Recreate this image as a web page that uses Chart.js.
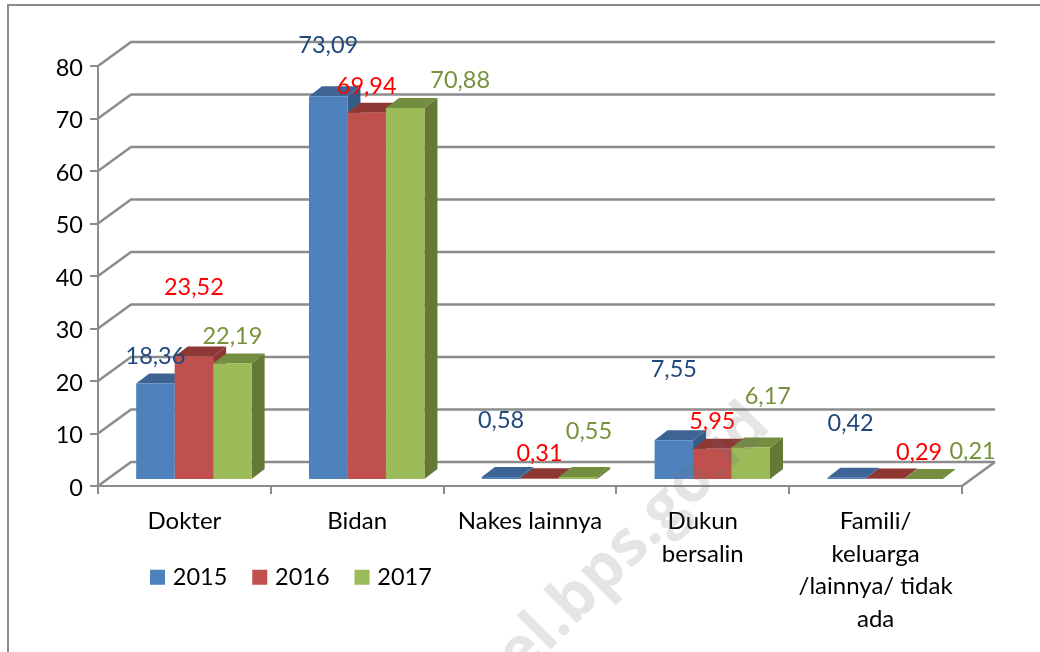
<!DOCTYPE html>
<html>
<head>
<meta charset="utf-8">
<title>Penolong persalinan</title>
<script src="https://cdn.jsdelivr.net/npm/chart.js@4"></script>
<style>
  html, body { margin: 0; padding: 0; background: #fff; }
  canvas { display: block; }
</style>
</head>
<body>
<canvas id="myChart" width="1040" height="652"></canvas>
<script>
"use strict";

const categories = ["Dokter", "Bidan", "Nakes lainnya", ["Dukun", "bersalin"], ["Famili/", "keluarga", "/lainnya/ tidak", "ada"]];
const years = ["2015", "2016", "2017"];
const values2015 = [18.36, 73.09, 0.58, 7.55, 0.42];
const values2016 = [23.52, 69.94, 0.31, 5.95, 0.29];
const values2017 = [22.19, 70.88, 0.55, 6.17, 0.21];

const frontColors = ["#4F81BD", "#C0504D", "#9BBB59"];
const topColors = ["#3E6495", "#8E3836", "#748E40"];
const sideColors = ["#355C88", "#8E3836", "#657835"];
const labelColors = ["#1F497D", "#FF0000", "#76923C"];

/* Etiketternas förskjutning från stapelns topp, [dx, dy], en rad per serie */
const labelOffsets = [
  [[0, -27], [0, -51], [0, -57], [0, -71], [4, -54]],
  [[0, -69], [0, -26], [0, -25], [0, -27], [34, -26]],
  [[0, -27], [55, -27], [11, -46], [17, -51], [49, -27]]
];

const FONT = "Lato";
const depthX = 33, depthY = 24;      // väggarnas djup
const barShiftX = 9.5, barShiftY = 6; // staplarna står mitt på golvet
const barDepthX = 13, barDepthY = 10;
const gridColor = "#8C8C8C";

function face(ctx, color, points) {
  ctx.fillStyle = color;
  ctx.beginPath();
  points.forEach((p, i) => i ? ctx.lineTo(p[0], p[1]) : ctx.moveTo(p[0], p[1]));
  ctx.closePath();
  ctx.fill();
}

/* Ram och väggar */
const wallsPlugin = {
  id: "walls",
  beforeDraw(chart) {
    const ctx = chart.ctx, y = chart.scales.y, a = chart.chartArea;
    ctx.save();
    ctx.strokeStyle = "#8C8C8C";
    ctx.lineWidth = 2;
    ctx.strokeRect(8, 5, 1100, 700);

    ctx.strokeStyle = gridColor;
    ctx.lineWidth = 2.5;
    y.ticks.forEach(t => {
      const py = y.getPixelForValue(t.value);
      ctx.beginPath();
      ctx.moveTo(a.left, py);
      ctx.lineTo(a.left + depthX, py - depthY);
      ctx.lineTo(a.right + depthX, py - depthY);
      ctx.stroke();
    });
    ctx.beginPath();
    ctx.moveTo(a.right, a.bottom);
    ctx.lineTo(a.right + depthX, a.bottom - depthY);
    ctx.stroke();
    ctx.restore();
  }
};

/* 3D-sidor ritas före framsidorna, framsidorna ritas av Chart.js */
const barsPlugin = {
  id: "bars3d",
  beforeDatasetsDraw(chart) {
    const ctx = chart.ctx;
    ctx.save();
    ctx.translate(barShiftX, -barShiftY);
    chart.data.datasets.forEach((ds, i) => {
      chart.getDatasetMeta(i).data.forEach(bar => {
        const l = bar.x - bar.width / 2, r = bar.x + bar.width / 2;
        face(ctx, sideColors[i], [[r, bar.y], [r + barDepthX, bar.y - barDepthY], [r + barDepthX, bar.base - barDepthY], [r, bar.base]]);
        face(ctx, topColors[i], [[l, bar.y], [l + barDepthX, bar.y - barDepthY], [r + barDepthX, bar.y - barDepthY], [r, bar.y]]);
      });
    });
  },
  afterDatasetsDraw(chart) {
    chart.ctx.restore();
    const ctx = chart.ctx;
    ctx.save();
    ctx.font = "23.5px " + FONT;
    ctx.textAlign = "center";
    ctx.textBaseline = "middle";
    chart.data.datasets.forEach((ds, i) => {
      chart.getDatasetMeta(i).data.forEach((bar, j) => {
        const off = labelOffsets[i][j];
        ctx.fillStyle = labelColors[i];
        ctx.fillText(ds.data[j].toFixed(2).replace(".", ","), bar.x + barShiftX + off[0], bar.y - barShiftY + off[1]);
      });
    });
    ctx.restore();
  }
};

/* Vattenstämpel */
const watermarkPlugin = {
  id: "watermark",
  afterDraw(chart) {
    const ctx = chart.ctx;
    ctx.save();
    ctx.translate(772, 428);
    ctx.rotate(-Math.PI / 4);
    ctx.font = "bold 63px 'Open Sans'";
    ctx.fillStyle = "rgba(110,110,110,0.18)";
    ctx.textAlign = "right";
    ctx.textBaseline = "alphabetic";
    ctx.fillText("el.bps.go.id", 0, 0);
    ctx.restore();
  }
};

/* Flyttar legenden till sin plats under diagrammet */
const legendPlacePlugin = {
  id: "legendPlace",
  afterLayout(chart) {
    const l = chart.legend;
    l.left = 125; l.right = 560; l.top = 536.5; l.bottom = 610;
    chart.scales.x.bottom = chart.height; // etiketterna får inte klippas
  }
};

new Chart(document.getElementById("myChart"), {
  type: "bar",
  data: {
    labels: categories,
    datasets: [
      { label: years[0], data: values2015, backgroundColor: frontColors[0] },
      { label: years[1], data: values2016, backgroundColor: frontColors[1] },
      { label: years[2], data: values2017, backgroundColor: frontColors[2] }
    ]
  },
  plugins: [wallsPlugin, barsPlugin, watermarkPlugin, legendPlacePlugin],
  options: {
    animation: false,
    responsive: false,
    layout: { padding: { left: 30, right: 78, top: 66, bottom: 0 } },
    datasets: { bar: { categoryPercentage: 0.668, barPercentage: 1 } },
    scales: {
      x: {
        afterFit(scale) { scale.height = 166 - scale.chart.legend.height; },
        grid: { display: true, drawOnChartArea: false, color: gridColor, lineWidth: 2, tickLength: 8 },
        border: { color: gridColor, width: 2 },
        ticks: { color: "#000", padding: 11, maxRotation: 0, autoSkip: false, font: { family: FONT, size: 24, lineHeight: 1.36 } }
      },
      y: {
        min: 0,
        max: 80,
        afterFit(scale) { scale.width = 68; },
        grid: { display: true, drawOnChartArea: false, color: gridColor, lineWidth: 2, tickLength: 8 },
        border: { color: gridColor, width: 2 },
        ticks: { color: "#000", stepSize: 10, padding: 7, labelOffset: 2, font: { family: FONT, size: 23.5 } }
      }
    },
    plugins: {
      tooltip: { enabled: false },
      legend: {
        position: "bottom",
        align: "start",
        labels: {
          color: "#000",
          font: { family: FONT, size: 23.5 },
          boxWidth: 7,
          boxHeight: 7,
          padding: 29,
          generateLabels: chart => chart.data.datasets.map((ds, i) => ({
            text: ds.label,
            fillStyle: frontColors[i],
            strokeStyle: frontColors[i],
            lineWidth: 8,
            datasetIndex: i
          }))
        }
      }
    }
  }
});
</script>
</body>
</html>
